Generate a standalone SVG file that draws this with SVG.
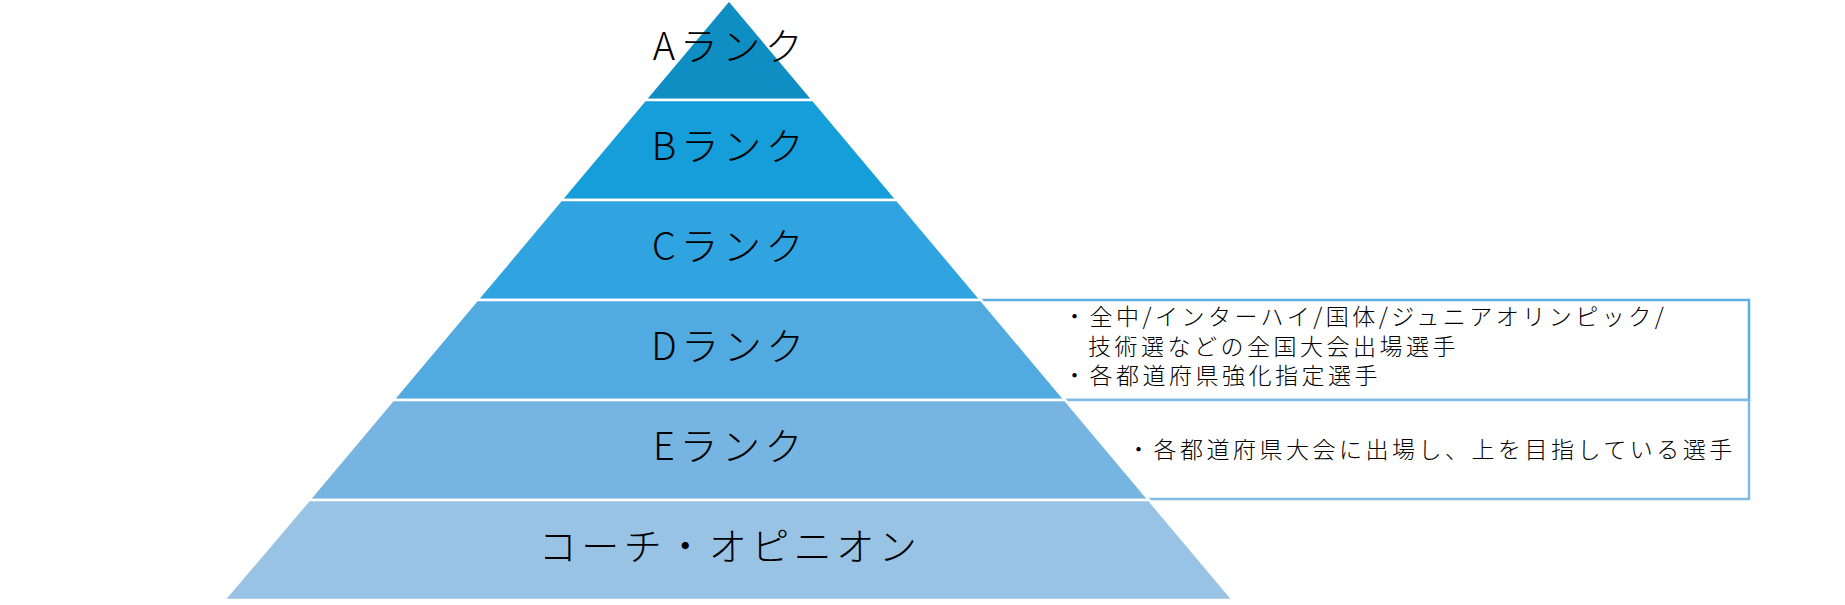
<svg xmlns="http://www.w3.org/2000/svg" width="1845" height="605" viewBox="0 0 1845 605">
<style>
.band{stroke:#ffffff;stroke-width:2.5;}
.lbl{font-family:"Noto Sans CJK JP","Noto Sans",sans-serif;font-size:38px;font-weight:300;fill:#000;text-anchor:middle;letter-spacing:4.5px;}
.note{font-family:"Noto Sans CJK JP","Noto Sans",sans-serif;font-size:23px;font-weight:300;fill:#000;letter-spacing:3.5px;}
.box{fill:#ffffff;stroke-width:2.5;}
</style>
<rect width="1845" height="605" fill="#ffffff"/>
<g id="box-d"><rect class="box" x="729" y="300" width="1020" height="100" stroke="#5aafe3"/>
<text class="note" x="1063" y="325">・全中/インターハイ/国体/ジュニアオリンピック/</text>
<text class="note" x="1088" y="355">技術選などの全国大会出場選手</text>
<text class="note" x="1063" y="384">・各都道府県強化指定選手</text></g>
<g id="box-e"><rect class="box" x="729" y="400" width="1020" height="99" stroke="#80bbe4"/>
<text class="note" x="1127" y="458">・各都道府県大会に出場し、上を目指している選手</text></g>
<g id="rank-a"><polygon class="band" points="729,0 813,100 645,100" fill="#0e8ec2"/><text class="lbl" x="730" y="59.5">Aランク</text></g>
<g id="rank-b"><polygon class="band" points="645,100 813,100 897,200 561,200" fill="#159eda"/><text class="lbl" x="730" y="159.5">Bランク</text></g>
<g id="rank-c"><polygon class="band" points="561,200 897,200 981,300 477,300" fill="#2fa4e1"/><text class="lbl" x="730" y="259.5">Cランク</text></g>
<g id="rank-d"><polygon class="band" points="477,300 981,300 1065,400 393,400" fill="#52abe0"/><text class="lbl" x="730" y="359.5">Dランク</text></g>
<g id="rank-e"><polygon class="band" points="393,400 1065,400 1149,500 309,500" fill="#76b5e1"/><text class="lbl" x="730" y="459.5">Eランク</text></g>
<g id="coach"><polygon class="band" points="309,500 1149,500 1233,600 224,600" fill="#98c3e4"/><text class="lbl" x="730" y="559.5">コーチ・オピニオン</text></g>
<g id="connectors"></g>
</svg>
